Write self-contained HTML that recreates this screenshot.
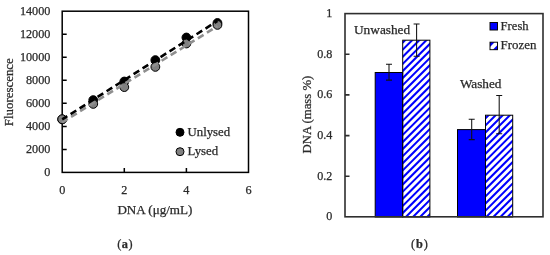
<!DOCTYPE html>
<html><head><meta charset="utf-8">
<style>
html,body{margin:0;padding:0;background:#fff;width:550px;height:255px;overflow:hidden}
svg{display:block;will-change:transform}
text{font-family:"Liberation Serif",serif;fill:#2a2a2a;stroke:#2a2a2a;stroke-width:0.25px}
</style></head>
<body>
<svg width="550" height="255" viewBox="0 0 550 255">
<defs>
<clipPath id="c1"><rect x="402.7" y="40.2" width="27.2" height="176.8"/></clipPath>
<clipPath id="c2"><rect x="485.5" y="115.2" width="27.2" height="101.8"/></clipPath>
<clipPath id="c3"><rect x="490" y="42.2" width="7.5" height="7.5"/></clipPath>
</defs>
<rect width="550" height="255" fill="#fff"/>

<!-- ===== Chart A ===== -->
<g font-size="12.2" text-anchor="end">
<text x="50.4" y="15">14000</text>
<text x="50.4" y="38">12000</text>
<text x="50.4" y="61">10000</text>
<text x="50.4" y="84">8000</text>
<text x="50.4" y="107">6000</text>
<text x="50.4" y="130">4000</text>
<text x="50.4" y="153">2000</text>
<text x="50.4" y="176">0</text>
</g>
<g font-size="12.2" text-anchor="middle">
<text x="62.2" y="194">0</text>
<text x="124.3" y="194">2</text>
<text x="186.4" y="194">4</text>
<text x="248.5" y="194">6</text>
</g>
<text x="117.4" y="214.3" font-size="12.4" textLength="75" lengthAdjust="spacingAndGlyphs">DNA (μg/mL)</text>
<text transform="translate(13.3,126.2) rotate(-90)" font-size="12.3" textLength="68" lengthAdjust="spacingAndGlyphs">Fluorescence</text>

<!-- ticks -->
<g stroke="#000" stroke-width="1.5" fill="none">
<path d="M62.2 34.2h4.5M62.2 57.3h4.5M62.2 80.3h4.5M62.2 103.3h4.5M62.2 126.4h4.5M62.2 149.4h4.5"/>
<path d="M124.3 172.4v-4.5M186.4 172.4v-4.5"/>
<rect x="62.2" y="11.2" width="186.3" height="161.2"/>
</g>

<!-- markers -->
<g stroke="#000" stroke-width="1" fill="#000">
<circle cx="62.2" cy="119.4" r="4.4"/>
<circle cx="93.25" cy="100.1" r="4.4"/>
<circle cx="124.3" cy="81.5" r="4.4"/>
<circle cx="155.35" cy="60.1" r="4.4"/>
<circle cx="186.4" cy="37.5" r="4.4"/>
<circle cx="217.45" cy="23" r="4.4"/>
</g>
<g stroke="#000" stroke-width="1" fill="#808080">
<circle cx="62.2" cy="119.2" r="4.4"/>
<circle cx="93.25" cy="103.9" r="4.4"/>
<circle cx="124.3" cy="87.1" r="4.4"/>
<circle cx="155.35" cy="66.9" r="4.4"/>
<circle cx="186.4" cy="43.5" r="4.4"/>
<circle cx="217.45" cy="24.9" r="4.4"/>
</g>
<!-- trendlines -->
<line x1="62.2" y1="122.3" x2="217.45" y2="26.2" stroke="#8f8f8f" stroke-width="2.6" stroke-dasharray="6.7 3.95" stroke-dashoffset="0.2"/>
<line x1="62.2" y1="119.4" x2="217.45" y2="21.0" stroke="#000" stroke-width="2.6" stroke-dasharray="6.7 3.95" stroke-dashoffset="0.7"/>

<!-- legend a -->
<circle cx="180" cy="132.3" r="4" fill="#000" stroke="#000"/>
<circle cx="180" cy="151.7" r="4" fill="#808080" stroke="#000"/>
<text x="187.5" y="135.8" font-size="12.3" textLength="42.7" lengthAdjust="spacingAndGlyphs">Unlysed</text>
<text x="187.5" y="155.2" font-size="12.3" textLength="30.7" lengthAdjust="spacingAndGlyphs">Lysed</text>

<!-- ===== Chart B ===== -->
<g font-size="12.1" text-anchor="end">
<text x="332.4" y="16.9">1</text>
<text x="332.4" y="57.7">0.8</text>
<text x="332.4" y="98.3">0.6</text>
<text x="332.4" y="139">0.4</text>
<text x="332.4" y="179.7">0.2</text>
<text x="332.4" y="220.4">0</text>
</g>
<text transform="translate(310.5,153.4) rotate(-90)" font-size="12.3" textLength="77.6" lengthAdjust="spacingAndGlyphs">DNA (mass %)</text>

<!-- bars -->
<rect x="375.2" y="72.5" width="27.5" height="144.5" fill="#0000ff" stroke="#000" stroke-width="1"/>
<rect x="457.5" y="129.6" width="28" height="87.4" fill="#0000ff" stroke="#000" stroke-width="1"/>
<path clip-path="url(#c1)" stroke="#0000ff" stroke-width="2.05" fill="none" d="M400.0 31.10L433.2 -2.10M400.0 38.20L433.2 5.00M400.0 45.30L433.2 12.10M400.0 52.40L433.2 19.20M400.0 59.50L433.2 26.30M400.0 66.60L433.2 33.40M400.0 73.70L433.2 40.50M400.0 80.80L433.2 47.60M400.0 87.90L433.2 54.70M400.0 95.00L433.2 61.80M400.0 102.10L433.2 68.90M400.0 109.20L433.2 76.00M400.0 116.30L433.2 83.10M400.0 123.40L433.2 90.20M400.0 130.50L433.2 97.30M400.0 137.60L433.2 104.40M400.0 144.70L433.2 111.50M400.0 151.80L433.2 118.60M400.0 158.90L433.2 125.70M400.0 166.00L433.2 132.80M400.0 173.10L433.2 139.90M400.0 180.20L433.2 147.00M400.0 187.30L433.2 154.10M400.0 194.40L433.2 161.20M400.0 201.50L433.2 168.30M400.0 208.60L433.2 175.40M400.0 215.70L433.2 182.50M400.0 222.80L433.2 189.60M400.0 229.90L433.2 196.70M400.0 237.00L433.2 203.80M400.0 244.10L433.2 210.90M400.0 251.20L433.2 218.00M400.0 258.30L433.2 225.10"/>
<path clip-path="url(#c2)" stroke="#0000ff" stroke-width="2.05" fill="none" d="M482.5 107.10L515.7 73.90M482.5 114.20L515.7 81.00M482.5 121.30L515.7 88.10M482.5 128.40L515.7 95.20M482.5 135.50L515.7 102.30M482.5 142.60L515.7 109.40M482.5 149.70L515.7 116.50M482.5 156.80L515.7 123.60M482.5 163.90L515.7 130.70M482.5 171.00L515.7 137.80M482.5 178.10L515.7 144.90M482.5 185.20L515.7 152.00M482.5 192.30L515.7 159.10M482.5 199.40L515.7 166.20M482.5 206.50L515.7 173.30M482.5 213.60L515.7 180.40M482.5 220.70L515.7 187.50M482.5 227.80L515.7 194.60M482.5 234.90L515.7 201.70M482.5 242.00L515.7 208.80M482.5 249.10L515.7 215.90M482.5 256.20L515.7 223.00"/>
<g stroke="#000" stroke-width="1" fill="none">
<rect x="402.7" y="40.2" width="27.2" height="176.8"/>
<rect x="485.5" y="115.2" width="27.2" height="101.8"/>
</g>
<!-- error bars -->
<g stroke="#111" stroke-width="1.05" fill="none">
<path d="M389 64.3V80.1M386.0 64.3h6M386.0 80.1h6"/>
<path d="M416.6 23.9V56.3M413.6 23.9h6M413.6 56.3h6"/>
<path d="M471.7 119.3V139.6M468.7 119.3h6M468.7 139.6h6"/>
<path d="M499.2 95.4V133.8M496.2 95.4h6M496.2 133.8h6"/>
</g>

<!-- frame b -->
<g stroke="#2e2e2e" stroke-width="1.6" fill="none">
<path d="M345 54.2h4.5M345 94.9h4.5M345 135.6h4.5M345 176.3h4.5"/>
<rect x="345" y="13.6" width="198" height="203.2"/>
</g>

<text x="354" y="33.9" font-size="12.3" textLength="56.2" lengthAdjust="spacingAndGlyphs">Unwashed</text>
<text x="459.9" y="87.8" font-size="12.3" textLength="41.6" lengthAdjust="spacingAndGlyphs">Washed</text>

<!-- legend b -->
<rect x="490" y="22.5" width="7.5" height="7.5" fill="#0000ff" stroke="#000" stroke-width="0.95"/>
<path fill="#0000ff" d="M490 42.2H494.7L490 46.9ZM497.5 45V49.7H492.8Z"/>
<rect x="490" y="42.2" width="7.5" height="7.5" fill="none" stroke="#000" stroke-width="0.95"/>
<text x="500.6" y="30.2" font-size="12.3" textLength="28" lengthAdjust="spacingAndGlyphs">Fresh</text>
<text x="500.6" y="49.2" font-size="12.3" textLength="35.9" lengthAdjust="spacingAndGlyphs">Frozen</text>

<!-- captions -->
<text x="117.3" y="248.3" font-size="12.3" textLength="15.2" lengthAdjust="spacing">(<tspan font-weight="bold">a</tspan>)</text>
<text x="410.9" y="248.3" font-size="12.3" textLength="17" lengthAdjust="spacing">(<tspan font-weight="bold">b</tspan>)</text>
</svg>
</body></html>
